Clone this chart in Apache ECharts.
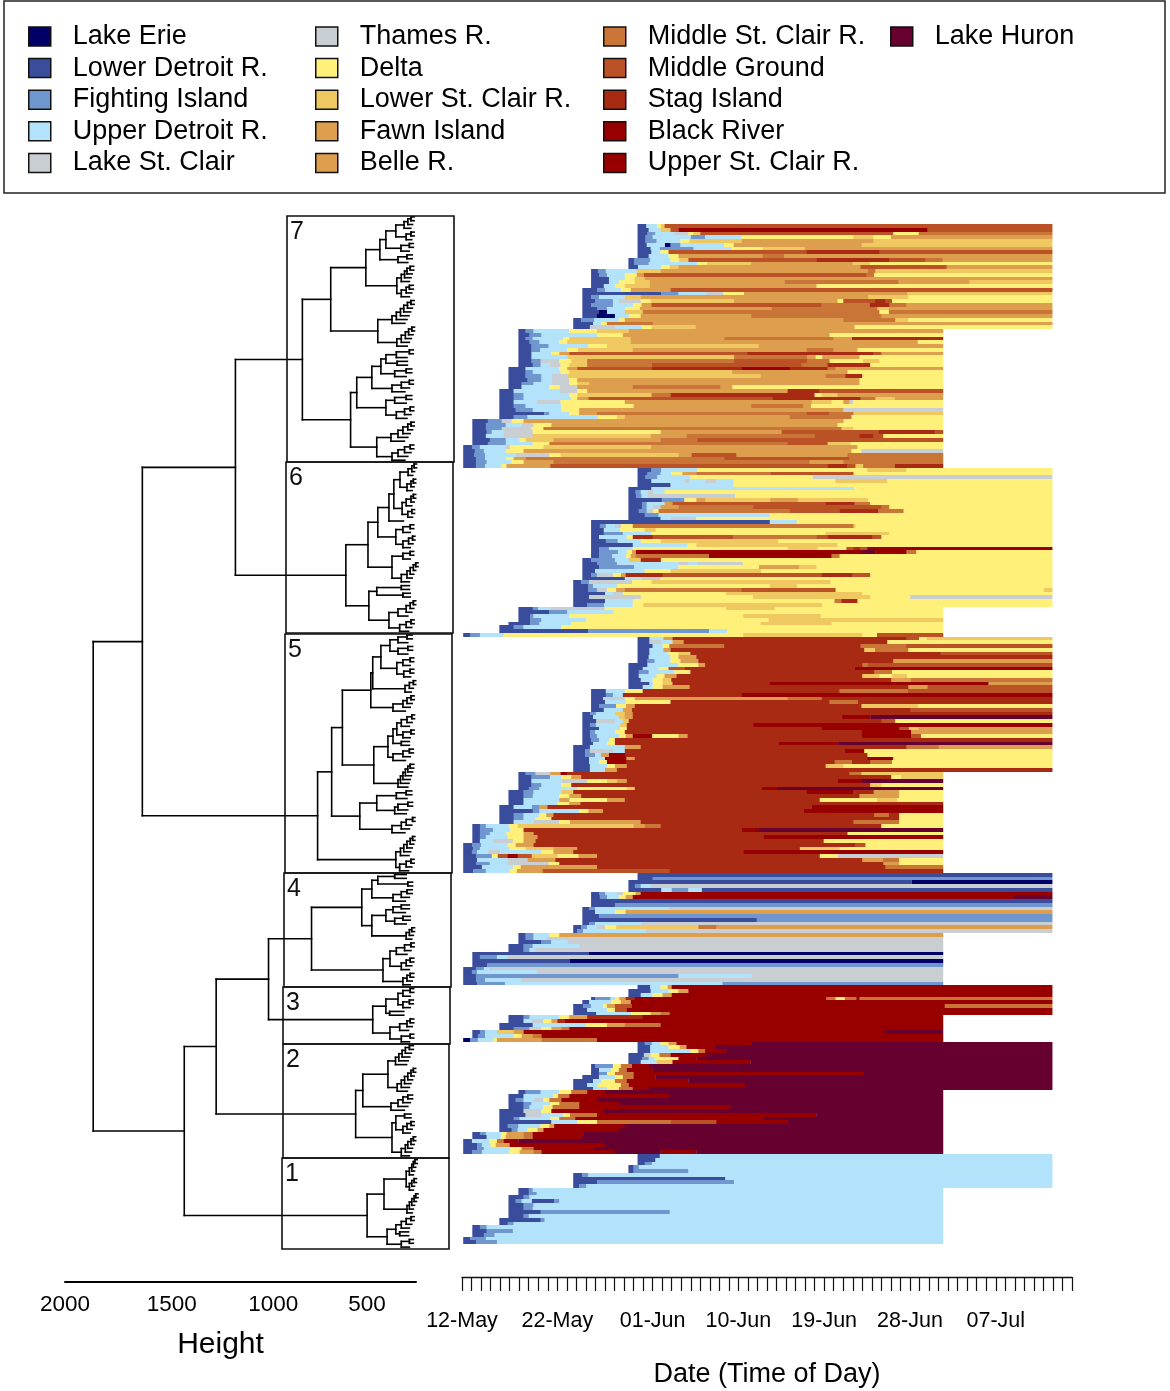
<!DOCTYPE html>
<html><head><meta charset="utf-8">
<style>html,body{margin:0;padding:0;background:#fff}#c{width:1170px;height:1391px}</style>
<script src="https://cdn.jsdelivr.net/npm/echarts@6/dist/echarts.min.js"></script>
</head><body><div id="c"></div>
<script>
// Regions: code, name, colour
const regionCodes = ['E','L','F','U','C','T','D','S','W','B','M','G','K','R','P','H'];
const regionNames = ['Lake Erie','Lower Detroit R.','Fighting Island','Upper Detroit R.','Lake St. Clair','Thames R.','Delta','Lower St. Clair R.','Fawn Island','Belle R.','Middle St. Clair R.','Middle Ground','Stag Island','Black River','Upper St. Clair R.','Lake Huron'];
const regionColors = ['#000066','#3a4d9c','#7096cf','#b3e3fb','#c9ced2','#c9ced2','#fff07a','#f0c862','#dd9f4e','#dd9f4e','#c97538','#ba5226','#a82a12','#980000','#980000','#66002f'];
// Date axis
const dayTickLabels = ['12-May','22-May','01-Jun','10-Jun','19-Jun','28-Jun','07-Jul'];
const dayTickOffsets = [0,10,20,29,38,47,56];
// Height axis
const heightTicks = [2000,1500,1000,500];

// Rows: "startHour Code+endHour ..." (hours after 12-May 00:00)
const cluster7Rows = [
'442 L464 U491 D501 S510 G1486','442 L470 U500 S525 G545 P1171 G1486','442 L467 F487 U535 C570 D582 S600 G1085 D1150 M1486',
'442 L462 F480 U575 F612 U704 D985 S1035 D1080 W1486','442 L462 F490 U550 D573 S704 W1036 S1486','442 L465 U510 E525 F550 U660 D684 W1006 S1486',
'442 L475 U497 F583 U679 D757 S863 W1486','442 L477 U500 D520 G868 K1050 G1486','442 L470 U520 D545 W757 M810 W1486',
'419 L433 F474 U525 D547 S570 G892 K1075 G1166 M1210 W1486','419 L433 F470 U593 D617 S728 W983 S1027 D1486','419 L443 U501 D523 S545 W1003 G1220 W1486',
'325 L342 F362 U440 S500 W1022 M1040 S1486','325 L345 F365 U410 D440 W458 G1017 M1037 D1486','325 L370 U410 D435 S460 W1486',
'325 L370 U395 D435 S473 W812 M1099 W1277 S1486','325 L357 U385 D410 S473 W892 D1486','303 L340 F360 U400 D425 W525 G1486',
'303 L501 F545 U617 C658 D710 W1120 S1486','303 L325 F345 U410 S450 W1022 S1123 D1486','303 L335 F380 U395 C450 D475 S685 W945 D960 G1040 K1065 G1082 D1486',
'303 L325 F380 U430 D452 W477 G905 M1027 K1075 M1118 W1486','303 L340 F365 U410 D448 W780 M1045 S1075 W1486','303 L343 E365 U410 S455 M1050 D1075 M1486',
'303 L338 E385 U420 D450 W728 M1055 W1486','280 L300 F333 U395 D410 W960 M1090 S1123 D1486','280 L330 U350 D365 M480 W1486',
'280 L322 C385 U453 D477 S588 W988 D1486','142 L160 F180 U270 D340 S420 W1211','142 L170 F200 U340 D405 W925 D1211',
'142 L160 F178 U255 D270 S425 W660 M935 W982 K1211','142 L170 F195 U245 D265 S425 W1147 D1211','142 L175 F218 U318 D365 S747 W1211',
'142 L175 F197 U265 D292 S430 W868 M935 W995 D1211','142 L175 U225 D245 W270 G718 K1036 G1055 W1211','142 L175 U265 S685 M868 W890 D907 W1000 D1211',
'142 L175 F198 C245 D275 S315 M685 G868 M925 D1010 S1050 D1211','142 L178 F198 U222 C248 D270 S315 M477 G855 M920 K1027 D1211','117 L160 U245 D265 W290 G477 K703 R825 K920 M940 W1211',
'117 L160 F178 U248 D270 S680 W970 D1211','117 L160 F200 U225 C265 S752 W915 M965 K1007 D1211','117 L165 F200 U225 C270 D290 W1000 D1211',
'117 L150 F180 U225 C270 D290 S320 W1000 D1211','117 L150 U220 D245 C290 W430 M650 W680 D1211','94 L130 U245 C290 D315 W820 K900 G1211',
'94 L130 F155 U270 D290 S477 M525 K887 D905 S945 W1211','94 L130 F155 U275 D290 W318 G782 K1003 M1040 S1090 W1211','94 L130 U188 C248 D410 W880 S930 D960 W975 C985 D1211',
'94 L130 F160 U250 D432 W728 M858 W878 D1211','94 L135 F178 U250 D295 W960 C1211','94 L207 F220 U270 D295 W340 M868 G925 M985 S1211',
'94 L130 F165 U342 D390 S410 W825 M980 D1211','26 L65 F100 C125 D155 W960 D1211','26 L60 F110 U150 C180 D225 W945 D1211',
'26 L60 F100 C175 D205 M955 S985 D1211','26 L62 F75 U105 C178 D500 W805 G1050 K1190 G1211','26 L60 U105 C178 S475 W565 M888 G1000 K1035 G1060 D1211',
'26 L70 F110 U145 D160 S230 W500 M592 G1211','26 L65 F110 U178 D220 M820 G920 S978 D1211','3 L25 F45 U110 C120 D205 S476 W995 D1211',
'3 L32 F55 U110 D155 W980 D1005 C1211','3 L30 F58 U135 C220 D248 S545 W578 G690 W970 M1211','3 L35 F58 U110 D130 W160 M660 G975 M1211',
'3 L35 F62 U125 D155 W230 M875 W960 M1211','3 L35 F58 U100 D112 W222 G920 K970 G990 S1010 M1090 K1211'];
const cluster6Rows = [
'442 L477 F502 U593 D1020 S1118 D1486','442 L467 F500 U527 D555 W590 M776 G985 D1486','442 L462 F492 U575 D882 C1486',
'442 L477 U560 C572 U612 C640 U684 D940 S1070 D1486','442 L525 U684 D1486','419 L477 U988 D1486',
'419 L437 F450 U468 C482 U510 D1486','419 L438 F452 U468 C688 D1486','419 L503 F560 D590 W612 S776 W845 S1022 D1486',
'419 L453 F465 U510 W530 G916 K988 M1027 D1486','419 L453 F465 U480 C500 W545 M733 G1055 M1075 D1486','419 L445 F465 C482 D495 M825 G950 K1047 M1111 D1486',
'419 L460 F495 U775 D1486','419 L500 U525 C590 D1486','325 L775 U843 D1486',
'325 L347 F362 U385 C400 D430 M985 S990 D1486','325 L357 U398 D460 S487 D1486','325 L357 F405 U477 D915 S1075 D1486',
'325 L345 U415 D430 K480 G683 M892 G920 K1032 G1055 D1486','325 L362 F392 U450 D500 S795 D1486','325 L430 U568 D590 S945 D1486',
'325 L345 F370 U430 D820 S895 D968 G985 K1002 G1020 R1486','325 L345 F393 U415 D428 W438 R1007 H1041 R1118 M1143 D1486','325 L345 F378 U413 D425 W437 M622 R930 M950 D1486',
'303 L325 F385 U420 S450 K500 D1486','303 L340 F390 U545 C570 U593 C707 D1486','303 L345 F433 U545 D748 W848 S892 D1486',
'303 L335 U460 D525 S752 D1486','303 L325 F340 C380 D400 W412 K505 G905 K983 G1027 D1486','303 L410 U453 C500 D1486',
'280 L300 F320 C428 D477 S927 D1486','280 L318 F330 U390 D775 S843 D1486','280 L318 F340 C365 D388 W410 M703 G940 D1465 S1486',
'280 L360 U380 C405 D665 S1007 D1486','280 L320 C450 D733 S1027 D1128 C1486','280 L360 U430 D938 M955 K995 D1486',
'280 L315 F358 U430 D456 S906 D1486','142 L178 F192 U222 C359 D665 S787 D1211','142 L220 F265 U382 D1211',
'142 L172 F180 U270 D708 S903 D1211','142 L172 F200 U313 D772 S1211','117 L172 F195 U275 D752 S930 D1211',
'94 L130 F155 U250 D1211','94 L318 F622 U667 D1211','3 L20 F45 U105 D708 S1007 D1045 G1211'];
const cluster5Rows = [
'442 L472 U507 W530 K1118 G1150 D1170 S1486','442 L472 C500 U530 W558 K1070 D1486','442 L480 U505 D522 M660 K1003 M1118 G1486',
'442 L472 U507 W525 K1012 S1040 M1123 D1486','442 L472 U520 D545 S575 K1205 G1486','442 L470 U525 D545 W590 K1486',
'442 L467 F485 U525 D550 W595 K1085 W1486','419 L467 U545 D595 W612 K1007 M1022 G1486','419 L455 U495 D520 G560 K988 R1486',
'419 L445 F470 U535 D575 K1037 M1082 D1486','419 L445 U490 D510 W540 K1007 S1050 D1083 S1120 D1486','419 L450 U480 D505 S527 K1080 W1130 M1486',
'419 L472 U482 D505 S530 K775 R1325 W1486','419 L455 U480 D505 W573 K1123 W1172 G1486','325 L362 U410 D455 K950 M1123 G1486',
'325 L362 F380 U405 K703 R1486','325 L355 C410 D435 W820 M906 K1486','325 L360 U412 D525 K925 M997 K1486',
'325 L345 F388 D413 W435 K1005 S1148 D1486','325 L357 U405 W428 K1128 G1486','303 L322 F337 U385 S410 W430 K1486',
'303 L330 U395 S410 W430 K957 R1028 H1486','303 L338 C385 U405 S420 K1055 G1090 D1486','303 L322 F337 U398 S415 K733 R1486',
'303 L345 U398 D415 K906 R1100 G1125 S1150 W1486','303 L322 F335 U385 D410 K1007 R1130 W1486','303 L322 F340 U395 D412 W430 R478 D545 W568 K1007 R1130 G1155 D1486',
'303 L325 F345 U370 D385 K1486','303 L330 U365 D385 K798 R945 H1486','280 L322 U410 W450 K1118 M1200 W1486',
'280 L310 F322 C380 U410 K963 R1012 D1486','280 L310 F335 U350 W370 R410 K1020 D1486','280 L320 U360 R413 W435 K1020 R1085 D1486',
'280 L320 U345 D365 R413 K938 M982 K1027 M1082 D1486','280 L322 U365 D385 W415 K915 S960 D1486','280 L322 U360 W390 K1486',
'142 L160 F185 C222 W248 R265 K975 M1005 S1211','142 L175 F222 U250 D275 W300 K1080 D1105 S1211','142 L175 U250 C315 D365 S390 W415 K945 R1007 H1211',
'142 L175 F200 U250 D275 K1027 S1055 D1211','142 L168 F195 U290 D415 S435 K755 R795 H1211','117 L155 F180 U250 S280 K868 R985 K1036 W1100 D1211',
'117 L155 F178 U245 D270 W300 K1000 W1100 D1211','117 L155 U245 W270 D365 W410 K900 D1045 S1095 D1211','117 L155 U240 D270 W298 K1211',
'94 L130 U175 F195 W215 K880 R1211','94 L178 F195 U295 D318 W355 K860 R1211','94 L130 F155 U195 D212 W230 K1037 M1075 K1100 D1211',
'94 L130 F155 U185 D225 K1100 D1211','94 L130 U180 C245 D272 W450 K985 M1100 D1211','26 L45 F60 U118 D140 S432 W460 M500 K1055 D1211',
'26 L45 F78 U122 D155 K705 R747 H1211','26 L45 F70 U112 D155 W180 K970 D1211','26 L45 F60 U115 D155 W190 K760 R1211',
'26 L45 U78 C128 D155 W185 K910 D1211','3 L25 F48 U115 D135 W180 K990 G1015 D1211','3 L28 F45 U120 D160 S230 W290 K850 S950 D1211',
'3 L25 F38 U65 C95 U200 D230 W280 K708 R1211','3 L35 F75 D90 G115 R140 G175 S240 D293 W340 K900 D945 C1211','3 L38 U115 C165 W235 K1007 W1060 M1100 D1211',
'3 L35 F70 U115 C218 D245 K1060 W1100 D1211','3 L50 U128 D148 W340 K1065 M1211','3 L28 F60 U120 D138 W203 G523 K1211'];
const cluster4Rows = [
'442 L1486','442 L480 F1486','419 L1132 E1486','419 L435 F450 U475 C1486','419 L502 U527 F570 U603 L1486',
'325 L345 F360 U390 C405 D437 W450 R1486','325 L347 F365 U395 D412 W430 R1389 H1486','325 L1486','325 L385 F1486',
'303 L320 F335 U520 C1486','303 L335 U385 D412 W1486','303 L345 F1486','303 L742 F1486','303 L320 F335 U453 C1486',
'280 L300 F315 U340 C360 D388 S595 M640 W1486','280 L290 F305 U462 C1486','142 L160 F180 U220 D245 W1211','142 L160 F180 U212 C1211',
'142 L200 F225 U265 C1211','117 L155 F178 U295 C1211','117 L155 F170 U183 C1211','26 L318 E1211','26 L45 F88 U115 C1211',
'26 L270 E1211','26 L63 F1211','3 L35 F55 U68 C1211','3 L25 F38 U188 C1211','3 L35 F545 U730 C1211','3 L35 F58 U148 C1211','3 L38 F108 U655 F1211'];
const cluster3Rows = [
'442 L474 U500 D518 W528 R1486','419 L475 U522 D545 W570 R1486','419 L450 U480 D505 W528 R1486',
'325 L335 F374 U385 D396 W412 K435 R916 M940 D964 M993 R1000 M1486','303 L320 U375 D400 W425 R1486','280 L305 F325 U355 D365 W385 G428 R1215 M1486',
'280 L315 U365 D385 G415 R1486','280 L338 U425 D475 W500 M523 R1486','117 L155 F170 U245 D270 W315 K455 R1211',
'117 L155 U175 C205 D225 W240 K258 R1211','94 L178 U313 D365 W410 M500 R1211','94 L130 F170 C200 D225 W250 M270 R1211',
'26 L45 F58 U88 S130 W155 R1065 H1211','26 L40 F58 U130 D150 W178 M200 R1211','3 E20 F40 U78 D88 W200 M340 R1211'];
const cluster2Rows = [
'442 L460 F478 U500 D520 W540 R728 H1486','442 L474 U520 D548 W565 R636 H1486','442 L474 U575 D595 M612 R665 H1486',
'419 L458 C475 D497 M525 R612 H1486','419 L453 F470 U485 D545 R590 H1486','419 L450 U490 S530 R726 H1486',
'325 L335 F380 D400 M428 R470 H1486','325 L345 U375 D395 M415 R480 H1486','325 L345 F365 D385 M432 R1012 H1486',
'303 L345 U385 D405 M432 R487 H1486','280 L330 U350 D385 M415 R570 H1486','280 L315 U342 D400 M420 R712 H1486',
'280 L330 U365 D395 M430 R470 H1486','142 L160 F198 U245 D275 M315 R362 H1211','117 L155 U230 D242 M270 R523 H1211',
'117 L135 F155 U180 C205 D220 M250 R342 H1211','117 L155 F175 U222 D245 M295 R395 H1211','117 L155 F170 U205 D228 M295 R675 H1211',
'94 L155 C200 D225 R355 H1211','94 L160 C200 U255 D272 M340 R892 H1211','94 L130 F145 U222 D245 M285 R757 H1211',
'94 L225 U290 D340 M525 G640 R820 H1211','94 L115 F142 U198 D220 W232 R410 H1211','94 L125 F140 U165 D190 W205 R395 H1211',
'26 L45 F60 U98 D112 W155 M178 R305 H1211','26 L62 U98 D110 W155 M178 R300 H1211','3 L25 U68 D88 M105 R142 H1211',
'3 L38 F50 U72 D85 W120 R360 H1211','3 L38 F55 U122 D150 M180 R332 H1211','3 L25 F50 U118 D145 W180 M200 R385 H500 R590 H1211'];
const cluster1Rows = [
'442 L498 U1486','442 L487 U1486','442 L460 F478 U1486','419 L432 F445 U1486','419 L432 F570 U1486','280 L302 F318 U1486',
'280 L663 U1486','280 L340 F685 U1486','280 L295 F313 U1486','142 L168 F178 U1211','142 L168 F188 U1211','117 L155 F170 U1211',
'117 L135 F150 U175 L232 F245 U1211','117 L155 F180 U1211','117 L155 F178 U1211','117 L198 F523 U1211','117 L155 F168 U1211',
'94 L198 F208 U1211','94 L115 F130 U1211','26 L45 F62 U1211','26 L62 F128 U1211','26 L55 F82 U1211','3 L20 F60 U1211','3 L35 F88 U1211'];
const clusterRows = [cluster7Rows,cluster6Rows,cluster5Rows,cluster4Rows,cluster3Rows,cluster2Rows,cluster1Rows];

// Dendrogram: [height, child, child]; a plain list of heights is a chain of merges down to single leaves
const tree7 = [850,[700,[507,[427,[392,[333,[283,260,240],[270,240]],[302,250]],[320,265]],[327,[300,280,265,245],[300,270,250]]],[439,[356,330,305,285,262,240],[327,300,275,255,235]]],[592,[558,[473,[421,[392,[330,250],[325]],[340,270]],[356,300,250]],[392,[340,270],[330,280,245]]],[445,[362,320,290,260,240],[356,320,280,245]]]];
const tree6 = [618,[495,[439,[374,[345,[308,[258,235,220],[265,240,225]],[295,[270,240,225],[260,235]]],[]],[333,[290,245],[290,255,230]]],[356,[290,245],[300,265,245,225,210]]],[490,[445,[300],[290]],[374,[320,270,245,225],[310,270,240]]]];
const tree5 = [770,[695,[637,[479,[468,[421,[368,[320,265],[320,260]],[327,[290,245],[285,245]]],[277,250,225]],[350,290,265,240]],[462,[380,[350,[327,[300,265,235],[290,240]],[300]],[350,290,250]],[320,305,290,275,260,245]]],[541,[445,[330,270],[340,320,260]],[356,300,270,230]]],[333,[305,285,265,245,230],[310,270,240]]];
const tree4 = [802,[530,[473,[439,[340],[260]],[350,300,265]],[473,[392,[350,300],[340,290]],[270,250,235]]],[409,[368,[330,280,240],[300,270,245]],[290,265,245]]];
const tree3 = [468,[392,[320,[290,245],[290,250]],[370]],[368,[310,265,245],[300,245]]];
const tree2 = [564,[524,[380,[335,315,295,275,250],[325,300,280,260,240,225]],[362,320,290,260]],[356,[333,[280],[290,265,240]],[300,275,260,240,225]]];
const tree1 = [500,[403,[270,[250,235,225,215],[250,235,220]],[265,250,235,220,210]],[385,[333,[300,270,240],[310]],[300,250]]];
const treeRoot = [1870,[1640,[1190,tree7,tree6],tree5],[1440,[1285,[1024,tree4,tree3],tree2],tree1]];

// The height axis of the reference is a power scale
const HEIGHT_POWER = 1.15;
const heightUnit = h => Math.pow(h, HEIGHT_POWER);

// ---- build marks ----
const runsByRegion = regionCodes.map(() => []);
let rowIndex = 0;
clusterRows.forEach(rows => rows.forEach(str => {
  const tokens = str.split(' ');
  let from = +tokens[0];
  tokens.slice(1).forEach(tok => {
    const to = +tok.slice(1);
    runsByRegion[regionCodes.indexOf(tok[0])].push([from, to, rowIndex]);
    from = to;
  });
  rowIndex++;
}));
const ROWS = rowIndex;

const segments = [];
const tip = h => Math.min(h - 15, (h + 200) / 2);
function seg(h1, y1, h2, y2) { segments.push([heightUnit(h1), y1, heightUnit(h2), y2]); }
let nextLeaf = 0;
function place(node) {
  if (node.length === 0) return {y: nextLeaf++ + 0.5, leaf: true};
  if (typeof node[1] === 'object') {
    const a = place(node[1]), b = place(node[2]);
    return join(node[0], a, b);
  }
  // chain: deepest merge at the top rows
  let cur = {y: nextLeaf++ + 0.5, leaf: true};
  for (let i = node.length - 1; i >= 0; i--) {
    const leaf = {y: nextLeaf++ + 0.5, leaf: true};
    cur = join(node[i], cur, leaf);
  }
  return cur;
}
function join(h, a, b) {
  seg(h, a.y, h, b.y);
  seg(h, a.y, a.leaf ? tip(h) : a.h, a.y);
  seg(h, b.y, b.leaf ? tip(h) : b.h, b.y);
  return {y: (a.y + b.y) / 2, h: h, leaf: false};
}
place(treeRoot);

// cluster boxes and numbers are page furniture
const boxes = [[287,454,216,462,'7'],[286,453,462,633,'6'],[285,452,634,873,'5'],[284,451,873,987,'4'],[283,450,987,1044,'3'],[283,449,1044,1158,'2'],[282,449,1158,1249,'1']];
const FONT = '"Liberation Sans", Arial, sans-serif';
const graphic = [{type:'rect',shape:{x:4,y:1,width:1161,height:192},style:{fill:'none',stroke:'#222',lineWidth:1.5},silent:true}];
boxes.forEach(b => {
  graphic.push({type:'rect',shape:{x:b[0],y:b[2],width:b[1]-b[0],height:b[3]-b[2]},style:{fill:'none',stroke:'#111',lineWidth:1.6},silent:true,z:10});
  graphic.push({type:'text',x:b[0]+3,y:b[2]+4,style:{text:b[4],font:'25px '+FONT,fill:'#111'},silent:true,z:10});
});

const heatSeries = regionNames.map((name, i) => ({
  type:'custom', name, xAxisIndex:0, yAxisIndex:0, clip:false, silent:true,
  itemStyle:{color:regionColors[i]},
  encode:{x:[0,1],y:2},
  data:runsByRegion[i],
  renderItem:(p, api) => {
    const a = api.coord([api.value(0), api.value(2)]);
    const b = api.coord([api.value(1), api.value(2)+1]);
    const y0 = Math.round(a[1]), y1 = Math.round(b[1]);
    return {type:'rect',shape:{x:a[0],y:y0,width:b[0]-a[0]+0.3,height:y1-y0},style:{fill:regionColors[i]}};
  }
}));
const dendroSeries = {
  type:'custom', name:'dendrogram', xAxisIndex:1, yAxisIndex:1, clip:false, silent:true,
  encode:{x:[0,2],y:[1,3]}, data:segments,
  renderItem:(p, api) => {
    const a = api.coord([api.value(0), api.value(1)]);
    const b = api.coord([api.value(2), api.value(3)]);
    return {type:'line',shape:{x1:a[0],y1:a[1],x2:b[0],y2:b[1]},style:{stroke:'#000',lineWidth:1.6,lineCap:'square'}};
  }
};
const legendCols = [[0,5,28],[5,10,315],[10,15,603],[15,16,890]];
const legends = legendCols.map(c => ({
  orient:'vertical', left:c[2], top:23, itemWidth:22, itemHeight:19, itemGap:4.6, selectedMode:false,
  icon:'rect', padding:0,
  itemStyle:{borderColor:'#111',borderWidth:1.5},
  textStyle:{fontFamily:FONT,fontSize:27,color:'#000',padding:[0,0,0,17],lineHeight:27},
  data:regionNames.slice(c[0],c[1])
}));

const chart = echarts.init(document.getElementById('c'), null, {width:1170,height:1391});
chart.setOption({
  animation:false, backgroundColor:'#fff', legend:legends, graphic,
  grid:[
    {left:462,width:610,top:224,height:1020,outerBoundsMode:'none'},
    {left:65,width:351,top:215,height:1034,outerBoundsMode:'none'}
  ],
  xAxis:[
    {type:'value',gridIndex:0,min:0,max:64*24,interval:24,position:'bottom',offset:33,
     axisLine:{show:true,onZero:false,lineStyle:{color:'#111',width:1.4}},
     axisTick:{show:true,length:14,lineStyle:{color:'#111',width:1.2}},
     splitLine:{show:false},
     axisLabel:{margin:33,fontFamily:FONT,fontSize:21.5,color:'#000',customValues:dayTickOffsets.map(d=>d*24),
       formatter:v=>dayTickLabels[dayTickOffsets.indexOf(v/24)]},
     name:'Date (Time of Day)',nameLocation:'middle',nameGap:84,nameTextStyle:{fontFamily:FONT,fontSize:27,color:'#000'}},
    {type:'value',gridIndex:1,inverse:true,min:heightUnit(208),max:heightUnit(2000),position:'bottom',offset:33,
     axisLine:{show:true,onZero:false,lineStyle:{color:'#000',width:2}},axisTick:{show:false},splitLine:{show:false},
     axisLabel:{margin:11,fontFamily:FONT,fontSize:22.5,color:'#000',customValues:heightTicks.map(heightUnit),
       formatter:v=>String(heightTicks[heightTicks.map(heightUnit).findIndex(u=>Math.abs(u-v)<1)])},
     name:'Height',nameLocation:'middle',nameGap:48,nameTextStyle:{fontFamily:FONT,fontSize:30,color:'#000',padding:[0,40,0,0]}}
  ],
  yAxis:[
    {type:'value',gridIndex:0,inverse:true,min:0,max:ROWS,show:false},
    {type:'value',gridIndex:1,inverse:true,min:0,max:ROWS,show:false}
  ],
  series:[...heatSeries,dendroSeries]
});
</script></body></html>
